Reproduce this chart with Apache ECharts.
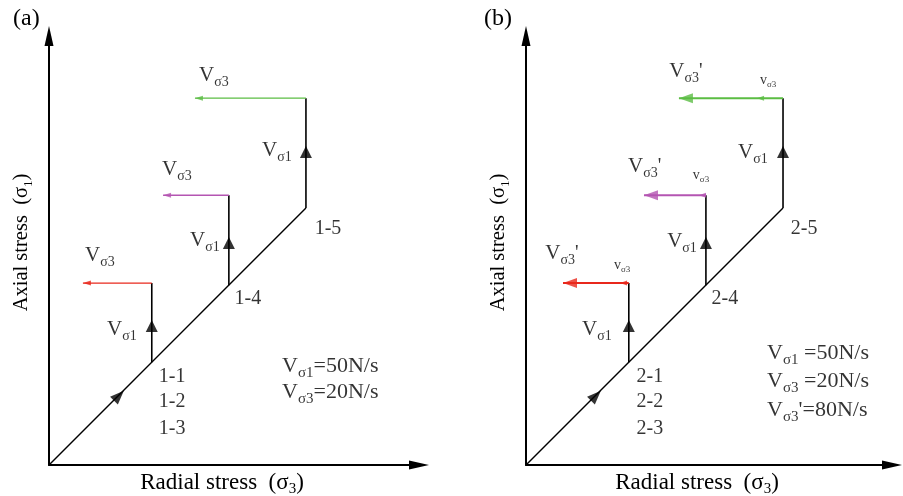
<!DOCTYPE html>
<html>
<head>
<meta charset="utf-8">
<script src="https://cdn.jsdelivr.net/npm/echarts@6/dist/echarts.min.js"></script>
<style>html,body{margin:0;padding:0;background:#fff}#c{width:903px;height:496px}</style>
</head>
<body>
<div id="c"></div>
<script>
// ---------- data (stress units, arbitrary schematic scale) ----------
const diagonalEnd = 10;                 // hydrostatic loading up to path 1-5 / 2-5
const holdStart = [4, 7, 10];           // σ3 = σ1 where deviatoric loading starts
const peakSigma1 = [7.08, 10.5, 14.28]; // σ1 at the end of axial loading
const endSigma3A = [1.32, 4.44, 5.68];  // σ3 at the end of unloading, panel (a)
const endSigma3B = [1.44, 4.59, 5.95];  // σ3 at the end of unloading, panel (b)
const switchSigma3B = [3.66, 6.73, 8.99]; // σ3 where unloading rate switches, panel (b)
const midArrowSigma1 = [5.41, 8.64, 12.18];
const diagArrow = [2.72, 2.7];
const pathLabelsA = ['1-1', '1-2', '1-3', '1-4', '1-5'];
const pathLabelsB = ['2-1', '2-2', '2-3', '2-4', '2-5'];
const rateS1 = 50, rateS3 = 20, rateS3fast = 80; // N/s
const pathColors = ['#e8281c', '#b455b2', '#5bbd43'];

// ---------- style / layout ----------
const F = 'Liberation Serif';
const INK = '#000';
const rich = {
  V: {fontFamily: F, fontSize: 21, color: INK, verticalAlign: 'bottom', padding: [0, 0, 3, 0]},
  s: {fontFamily: F, fontSize: 14, color: INK, verticalAlign: 'bottom'},
  t: {fontFamily: F, fontSize: 20, color: INK, verticalAlign: 'bottom', padding: [0, 0, 3, 0]},
  W: {fontFamily: F, fontSize: 22, color: INK, verticalAlign: 'bottom', padding: [0, 0, 3, 0]},
  w: {fontFamily: F, fontSize: 15, color: INK, verticalAlign: 'bottom'},
  T: {fontFamily: F, fontSize: 22, color: INK, verticalAlign: 'bottom', padding: [0, 0, 3, 0]},
  v: {fontFamily: F, fontSize: 14, color: INK, verticalAlign: 'bottom', padding: [0, 0, 2, 0]},
  ss: {fontFamily: F, fontSize: 9, color: INK, verticalAlign: 'bottom'},
  n: {fontFamily: F, fontSize: 23, color: INK, verticalAlign: 'bottom', padding: [0, 0, 3, 0]},
  ns: {fontFamily: F, fontSize: 15, color: INK, verticalAlign: 'bottom'},
  m: {fontFamily: F, fontSize: 20.5, color: INK, verticalAlign: 'bottom', padding: [0, 0, 3, 0]},
  ms: {fontFamily: F, fontSize: 13, color: INK, verticalAlign: 'bottom'}
};

function axisPair(gi, xmax, ymax) {
  const base = {
    gridIndex: gi, type: 'value', min: 0,
    axisTick: {show: false}, axisLabel: {show: false}, splitLine: {show: false},
    axisLine: {show: true, symbol: ['none', 'triangle'], symbolSize: [9, 20], lineStyle: {color: '#000', width: 2}}
  };
  return {
    x: Object.assign({}, base, {max: xmax, name: '{n|Radial stress  (σ}{ns|3}{n|)}', nameLocation: 'middle', nameGap: 6,
      nameTextStyle: {rich: rich, color: INK, padding: [0, 24, 0, 0]}}),
    y: Object.assign({}, base, {max: ymax, name: '{m|Axial stress  (σ}{ms|1}{m|)}', nameLocation: 'middle', nameGap: 14,
      nameTextStyle: {rich: rich, color: INK, padding: [0, 0, 0, 16]}})
  };
}

function panelSeries(gi, endS3, switchS3, labels) {
  const out = [];
  const ax = {xAxisIndex: gi, yAxisIndex: gi};
  const lineBase = Object.assign({type: 'line', showSymbol: false, symbol: 'none', silent: true, animation: false}, ax);
  out.push(Object.assign({}, lineBase, {data: [[0, 0], [diagonalEnd, diagonalEnd]], lineStyle: {color: '#000', width: 1.4}}));
  holdStart.forEach((s, i) => {
    out.push(Object.assign({}, lineBase, {data: [[s, s], [s, peakSigma1[i]]], lineStyle: {color: '#000', width: 1.6}}));
    out.push(Object.assign({}, lineBase, {data: [[s, peakSigma1[i]], [endS3[i], peakSigma1[i]]],
      lineStyle: {color: pathColors[i], width: switchS3 ? 2 : 1.3}}));
  });
  // arrowheads
  const scBase = Object.assign({type: 'scatter', silent: true, animation: false, z: 5}, ax);
  out.push(Object.assign({}, scBase, {symbol: 'triangle', symbolSize: [12, 12], itemStyle: {color: '#000'},
    data: holdStart.map((s, i) => [s, midArrowSigma1[i]])}));
  out.push(Object.assign({}, scBase, {symbol: 'triangle', symbolSize: [11, 14], symbolRotate: -45, itemStyle: {color: '#000'},
    data: [diagArrow]}));
  holdStart.forEach((s, i) => {
    const big = !!switchS3;
    out.push(Object.assign({}, scBase, {symbol: 'triangle', symbolSize: big ? [10, 14] : [5, 8], symbolRotate: 90,
      symbolOffset: big ? [7, 0] : [4, 0], itemStyle: {color: pathColors[i]}, data: [[endS3[i], peakSigma1[i]]]}));
    if (switchS3) {
      out.push(Object.assign({}, scBase, {symbol: 'triangle', symbolSize: [5, 7], symbolRotate: 90,
        symbolOffset: [3.5, 0], itemStyle: {color: pathColors[i]}, data: [[switchS3[i], peakSigma1[i]]]}));
    }
  });
  // labels
  out.push(Object.assign({}, scBase, {symbolSize: 0, z: 10,
    label: {show: true, position: 'inside', color: INK, rich: rich},
    data: labels}));
  return out;
}

function lab(text, x, y, pos) {
  const o = {value: [x, y], label: {formatter: text}};
  if (pos === 'right') { o.label.position = 'right'; o.label.distance = 0; o.label.align = 'left'; }
  return o;
}

const V1 = '{V|V}{s|σ1}', V3 = '{V|V}{s|σ3}', V3p = "{V|V}{s|σ3}{t|'}", v3 = '{v|v}{ss|σ3}';
const W1 = '{W|V}{w|σ1}', W3 = '{W|V}{w|σ3}';
const labelsA = [
  lab(V3, 1.98, 8.1), lab(V3, 4.98, 11.44), lab(V3, 6.42, 15.1),
  lab(V1, 2.84, 5.21), lab(V1, 6.07, 8.68), lab(V1, 8.87, 12.18),
  lab('{t|' + pathLabelsA[0] + '}', 4.79, 3.39), lab('{t|' + pathLabelsA[1] + '}', 4.79, 2.41), lab('{t|' + pathLabelsA[2] + '}', 4.79, 1.36),
  lab('{t|' + pathLabelsA[3] + '}', 7.74, 6.42), lab('{t|' + pathLabelsA[4] + '}', 10.86, 9.14),
  lab(W1 + '{T|=' + rateS1 + 'N/s}', 9.07, 3.77, 'right'),
  lab(W3 + '{T|=' + rateS3 + 'N/s}', 9.07, 2.76, 'right')
];
const labelsB = [
  lab(V3p, 1.4, 8.17), lab(V3p, 4.62, 11.56), lab(V3p, 6.22, 15.25),
  lab(v3, 3.74, 7.74), lab(v3, 6.81, 11.25), lab(v3, 9.42, 14.94),
  lab(V1, 2.76, 5.21), lab(V1, 6.07, 8.64), lab(V1, 8.83, 12.1),
  lab('{t|' + pathLabelsB[0] + '}', 4.82, 3.39), lab('{t|' + pathLabelsB[1] + '}', 4.82, 2.41), lab('{t|' + pathLabelsB[2] + '}', 4.82, 1.36),
  lab('{t|' + pathLabelsB[3] + '}', 7.74, 6.42), lab('{t|' + pathLabelsB[4] + '}', 10.82, 9.14),
  lab(W1 + '{T| =' + rateS1 + 'N/s}', 9.38, 4.28, 'right'),
  lab(W3 + '{T| =' + rateS3 + 'N/s}', 9.38, 3.19, 'right'),
  lab(W3 + "{T|'=" + rateS3fast + 'N/s}', 9.38, 2.06, 'right')
];

const aA = axisPair(0, 14.4, 16.7);
const aB = axisPair(1, 14.24, 16.7);

const chart = echarts.init(document.getElementById('c'), null, {renderer: 'canvas'});
chart.setOption({
  backgroundColor: '#fff',
  animation: false,
  title: [
    {text: '(a)', left: 8, top: 2, textStyle: {fontFamily: F, fontSize: 24, fontWeight: 'normal', color: INK}},
    {text: '(b)', left: 479, top: 2, textStyle: {fontFamily: F, fontSize: 24, fontWeight: 'normal', color: INK}}
  ],
  grid: [
    {left: 49, top: 36, width: 370, height: 429, outerBoundsMode: 'none', containLabel: false},
    {left: 526, top: 36, width: 366, height: 429, outerBoundsMode: 'none', containLabel: false}
  ],
  xAxis: [aA.x, aB.x],
  yAxis: [aA.y, aB.y],
  series: panelSeries(0, endSigma3A, null, labelsA).concat(panelSeries(1, endSigma3B, switchSigma3B, labelsB))
});
</script>
</body>
</html>
